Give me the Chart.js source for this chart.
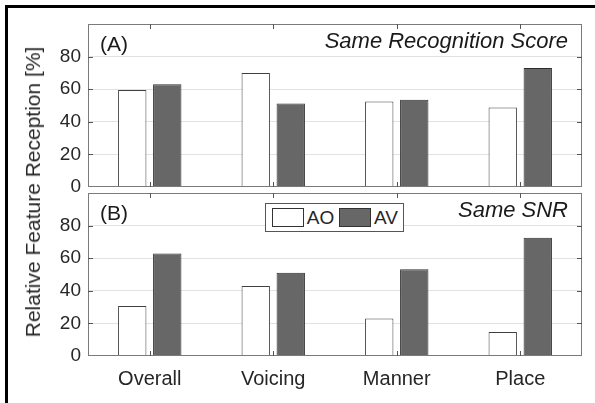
<!DOCTYPE html>
<html>
<head>
<meta charset="utf-8">
<script src="https://cdn.jsdelivr.net/npm/chart.js@4.4.0/dist/chart.umd.min.js"></script>
<style>
  body { margin: 0; background: #fff; }
  #wrap { position: relative; width: 595px; height: 403px; overflow: hidden;
          font-family: "Liberation Sans", Arial, sans-serif; color: #262626; }
  #frame { position: absolute; left: 5px; top: 5px; width: 700px; height: 500px;
           border-top: 3px solid #000; border-left: 3px solid #000; }
  canvas { position: absolute; left: 0; }
  #panelA { top: 0; }
  #panelB { top: 190px; }
  #ytitle { position: absolute; left: 33px; top: 192px; font-size: 21px; white-space: nowrap;
            transform: translate(-50%, -50%) rotate(-90deg); }
  #legend { position: absolute; left: 265px; top: 203px; width: 139px; height: 29px;
            box-sizing: border-box; border: 1px solid #555; background: #fff;
            display: flex; align-items: center; padding-left: 6px; font-size: 19px; }
  #legend .patch { width: 34px; height: 19px; box-sizing: border-box; border: 1px solid #333; margin-right: 3px; }
  #legend .name { margin-right: 5px; }
</style>
</head>
<body>
<div id="wrap">
  <div id="frame"></div>
  <canvas id="panelA" width="595" height="200"></canvas>
  <canvas id="panelB" width="595" height="213"></canvas>
  <div id="ytitle">Relative Feature Reception [%]</div>
  <div id="legend"></div>
</div>
<script>
// Data
const categories = ['Overall', 'Voicing', 'Manner', 'Place'];
const seriesNames = ['AO', 'AV'];
const aoSameScore = [59.5, 70, 52.5, 48.7];
const avSameScore = [63, 51.2, 53.5, 73];
const aoSameSnr = [30.6, 43, 23, 14.7];
const avSameSnr = [62.9, 51, 53.2, 72.6];
const yTicks = [0, 20, 40, 60, 80];

const fillColors = ['#ffffff', '#676767'];
const edgeColors = ['#404040', '#2e2e2e'];
const fontFamily = '"Liberation Sans", Arial, sans-serif';

// MATLAB-like box, inward ticks and the panel texts
const boxPlugin = {
  id: 'box',
  afterDraw(chart, args, opts) {
    const ctx = chart.ctx;
    const area = chart.chartArea;
    const x = chart.scales.x;
    const y = chart.scales.y;
    ctx.save();
    ctx.strokeStyle = '#7a7a7a';
    ctx.lineWidth = 1;
    ctx.strokeRect(area.left + 0.5, area.top + 0.5, area.right - area.left - 1, area.bottom - area.top - 1);

    ctx.strokeStyle = '#555';
    ctx.beginPath();
    x.ticks.forEach((t, i) => {
      const px = Math.round(x.getPixelForTick(i)) + 0.5;
      ctx.moveTo(px, area.top); ctx.lineTo(px, area.top + 5);
      ctx.moveTo(px, area.bottom); ctx.lineTo(px, area.bottom - 5);
    });
    yTicks.slice(1).forEach(v => {
      const py = Math.round(y.getPixelForValue(v)) + 0.5;
      ctx.moveTo(area.left, py); ctx.lineTo(area.left + 5, py);
      ctx.moveTo(area.right, py); ctx.lineTo(area.right - 5, py);
    });
    ctx.stroke();

    ctx.fillStyle = '#1a1a1a';
    ctx.textBaseline = 'middle';
    ctx.font = '21px ' + fontFamily;
    ctx.textAlign = 'left';
    ctx.fillText(opts.label, area.left + 12, area.top + 21);
    ctx.font = 'italic 22px ' + fontFamily;
    ctx.textAlign = 'right';
    ctx.fillText(opts.note, area.right - 14, area.top + 18);
    ctx.restore();
  }
};

function makePanel(canvasId, aoValues, avValues, label, note, showLabels) {
  const values = [aoValues, avValues];
  return new Chart(document.getElementById(canvasId), {
    type: 'bar',
    data: {
      labels: categories,
      datasets: seriesNames.map((name, i) => ({
        label: name,
        data: values[i],
        backgroundColor: fillColors[i],
        borderColor: edgeColors[i],
        borderWidth: 1,
        categoryPercentage: 0.567,
        barPercentage: 0.81
      }))
    },
    options: {
      responsive: false,
      animation: false,
      layout: { padding: { top: showLabels ? 3 : 24, right: 13, left: 0, bottom: 0 } },
      plugins: {
        legend: { display: false },
        tooltip: { enabled: false },
        box: { label: label, note: note }
      },
      scales: {
        x: {
          grid: { display: false },
          border: { display: false },
          ticks: {
            display: showLabels,
            color: '#262626',
            padding: 3,
            font: { family: fontFamily, size: 20 }
          },
          afterFit(scale) {
            scale.height = showLabels ? 47 : 13;
            scale.paddingLeft = 0;
            scale.paddingRight = 0;
          }
        },
        y: {
          min: 0,
          max: 100,
          grid: {
            drawTicks: false,
            color: ctx => (ctx.tick && (ctx.tick.value === 0 || ctx.tick.value === 100)) ? 'rgba(0,0,0,0)' : '#e2e2e2'
          },
          border: { display: false },
          ticks: {
            stepSize: 20,
            padding: 7,
            color: '#262626',
            font: { family: fontFamily, size: 19 },
            callback: v => yTicks.includes(v) ? v : ''
          },
          afterFit(scale) {
            // keep the plot box where the figure has it
            scale.width = 88;
            scale.paddingTop = 0;
            scale.paddingBottom = 0;
          }
        }
      }
    },
    plugins: [boxPlugin]
  });
}

// Legend built from the series
function buildLegend() {
  const legend = document.getElementById('legend');
  legend.innerHTML = seriesNames.map((name, i) => `
    <div class="patch" style="background:${fillColors[i]}"></div><span class="name">${name}</span>
  `).join('');
}

makePanel('panelA', aoSameScore, avSameScore, '(A)', 'Same Recognition Score', false);
makePanel('panelB', aoSameSnr, avSameSnr, '(B)', 'Same SNR', true);
buildLegend();
</script>
</body>
</html>
